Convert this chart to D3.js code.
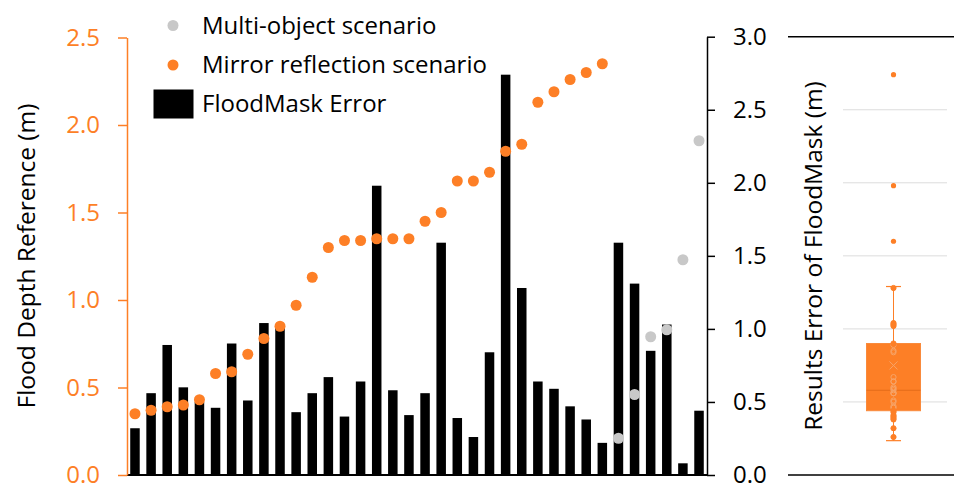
<!DOCTYPE html>
<html>
<head>
<meta charset="utf-8">
<script src="https://cdn.jsdelivr.net/npm/d3@7"></script>
<style>
  body { margin: 0; background: #fff; }
  svg text { font-family: "Open Sans", sans-serif; }
</style>
</head>
<body>
<svg id="chart" width="954" height="483"></svg>
<script>
// FloodMask error per sample (right axis, m)
const floodMaskError = [0.32, 0.56, 0.89, 0.60, 0.50, 0.46, 0.90, 0.51, 1.04, 1.02,
  0.43, 0.56, 0.67, 0.40, 0.64, 1.98, 0.58, 0.41, 0.56, 1.59,
  0.39, 0.26, 0.84, 2.74, 1.28, 0.64, 0.59, 0.47, 0.38, 0.22,
  1.59, 1.31, 0.85, 1.03, 0.08, 0.44];
// flood depth reference (left axis, m)
const mirrorDepth = [0.35, 0.37, 0.39, 0.40, 0.43, 0.58, 0.59, 0.69, 0.78, 0.85,
  0.97, 1.13, 1.30, 1.34, 1.34, 1.35, 1.35, 1.35, 1.45, 1.50,
  1.68, 1.68, 1.73, 1.85, 1.89, 2.13, 2.19, 2.26, 2.30, 2.35];
const multiDepth = [0.21, 0.46, 0.79, 0.83, 1.23, 1.91];
// box plot summary
const boxStats = { low: 0.235, q1: 0.44, median: 0.58, q3: 0.90, high: 1.29, mean: 0.75 };
const boxOutliers = [1.60, 1.98, 2.74];
const leftTicks = [0, 0.5, 1.0, 1.5, 2.0, 2.5];
const rightTicks = [0, 0.5, 1.0, 1.5, 2.0, 2.5, 3.0];
const gridTicks = [0.5, 1.0, 1.5, 2.0, 2.5];

const orange = '#fd7f26', grey = '#c8c8c8';
const svg = d3.select('#chart');

const x = d3.scaleBand()
  .domain(d3.range(floodMaskError.length))
  .range([127, 707])
  .paddingInner(0.41)
  .paddingOuter(0.2);
const yL = d3.scaleLinear().domain([0, 2.5]).range([475, 37.5]);
const yR = d3.scaleLinear().domain([0, 3]).range([475, 36.7]);

// bars
svg.append('g').selectAll('rect')
  .data(floodMaskError)
  .join('rect')
  .attr('x', (d, i) => x(i))
  .attr('y', d => yR(d))
  .attr('width', x.bandwidth())
  .attr('height', d => yR(0) - yR(d))
  .attr('fill', '#000');

// baseline
svg.append('line')
  .attr('x1', 127).attr('x2', 707)
  .attr('y1', yL(0)).attr('y2', yL(0))
  .attr('stroke', '#000').attr('stroke-width', 2);

// scatter points
const cx = i => x(i) + x.bandwidth() / 2;
svg.append('g').selectAll('circle')
  .data(mirrorDepth)
  .join('circle')
  .attr('cx', (d, i) => cx(i))
  .attr('cy', d => yL(d))
  .attr('r', 5.5)
  .attr('fill', orange);
svg.append('g').selectAll('circle')
  .data(multiDepth)
  .join('circle')
  .attr('cx', (d, i) => cx(i + mirrorDepth.length))
  .attr('cy', d => yL(d))
  .attr('r', 5.5)
  .attr('fill', grey);

// left axis
const axL = svg.append('g')
  .attr('transform', 'translate(127,0)')
  .call(d3.axisLeft(yL).tickValues(leftTicks).tickFormat(d3.format('.1f')).tickSize(9).tickSizeOuter(0));
axL.select('.domain').attr('stroke', orange).attr('stroke-width', 1.5);
axL.selectAll('.tick line').attr('stroke', orange).attr('stroke-width', 1.5);
axL.selectAll('.tick text').attr('fill', orange).attr('font-size', 24).attr('x', -27);

// right axis
const axR = svg.append('g')
  .attr('transform', 'translate(707,0)')
  .call(d3.axisRight(yR).tickValues(rightTicks).tickFormat(d3.format('.1f')).tickSize(8).tickSizeOuter(0));
axR.select('.domain').attr('stroke', '#000').attr('stroke-width', 1.5);
axR.selectAll('.tick line').attr('stroke', '#000').attr('stroke-width', 1.5);
axR.selectAll('.tick text').attr('fill', '#000').attr('font-size', 24).attr('x', 26);

// axis titles
svg.append('text')
  .attr('transform', 'translate(25,256) rotate(-90)')
  .attr('text-anchor', 'middle').attr('dominant-baseline', 'central')
  .attr('font-size', 24.5).attr('fill', '#000')
  .text('Flood Depth Reference (m)');
svg.append('text')
  .attr('transform', 'translate(812,256) rotate(-90)')
  .attr('text-anchor', 'middle').attr('dominant-baseline', 'central')
  .attr('font-size', 24.5).attr('fill', '#000')
  .text('Results Error of FloodMask (m)');

// legend
const legend = svg.append('g');
legend.append('circle').attr('cx', 173).attr('cy', 25.5).attr('r', 5.5).attr('fill', grey);
legend.append('circle').attr('cx', 173).attr('cy', 65).attr('r', 5.5).attr('fill', orange);
legend.append('rect').attr('x', 153.5).attr('y', 89.5).attr('width', 40).attr('height', 29).attr('fill', '#000');
[['Multi-object scenario', 24], ['Mirror reflection scenario', 63.5], ['FloodMask Error', 102.5]].forEach(([t, y]) => {
  legend.append('text').attr('x', 202).attr('y', y)
    .attr('dominant-baseline', 'central').attr('font-size', 24).attr('fill', '#000').text(t);
});

// box plot panel
const bx = 893.5, bw = 54;
svg.append('g').selectAll('line')
  .data(gridTicks)
  .join('line')
  .attr('x1', 843).attr('x2', 947)
  .attr('y1', d => yR(d)).attr('y2', d => yR(d))
  .attr('stroke', '#dcdcdc').attr('stroke-width', 1);
[0, 3].forEach(v => {
  svg.append('line').attr('x1', 788).attr('x2', 954)
    .attr('y1', yR(v)).attr('y2', yR(v))
    .attr('stroke', '#000').attr('stroke-width', 1.5);
});
const box = svg.append('g');
box.append('line').attr('x1', bx).attr('x2', bx)
  .attr('y1', yR(boxStats.high)).attr('y2', yR(boxStats.low))
  .attr('stroke', orange).attr('stroke-width', 1);
[boxStats.high, boxStats.low].forEach(v => {
  box.append('line').attr('x1', bx - 7.5).attr('x2', bx + 7.5)
    .attr('y1', yR(v)).attr('y2', yR(v))
    .attr('stroke', orange).attr('stroke-width', 1.2);
});
box.append('rect')
  .attr('x', bx - bw / 2).attr('width', bw)
  .attr('y', yR(boxStats.q3)).attr('height', yR(boxStats.q1) - yR(boxStats.q3))
  .attr('fill', orange).attr('stroke', '#f98a3c').attr('stroke-width', 1);
box.append('line').attr('x1', bx - bw / 2).attr('x2', bx + bw / 2)
  .attr('y1', yR(boxStats.median)).attr('y2', yR(boxStats.median))
  .attr('stroke', '#e46c1a').attr('stroke-width', 1);
// inner points
box.append('g').selectAll('circle')
  .data(floodMaskError.filter(d => d >= boxStats.low && d <= boxStats.high))
  .join('circle')
  .attr('cx', bx).attr('cy', d => yR(d)).attr('r', 2.6)
  .attr('fill', d => (d > boxStats.q1 && d < boxStats.q3) ? 'none' : orange)
  .attr('stroke', d => (d > boxStats.q1 && d < boxStats.q3) ? '#f7a468' : orange)
  .attr('stroke-width', 1);
box.append('g').selectAll('circle')
  .data(boxOutliers)
  .join('circle')
  .attr('cx', bx).attr('cy', d => yR(d)).attr('r', 2.6)
  .attr('fill', orange);
const my = yR(boxStats.mean);
box.append('path')
  .attr('d', `M${bx - 4},${my - 4}L${bx + 4},${my + 4}M${bx - 4},${my + 4}L${bx + 4},${my - 4}`)
  .attr('stroke', '#f7a468').attr('stroke-width', 1);
</script>
</body>
</html>
